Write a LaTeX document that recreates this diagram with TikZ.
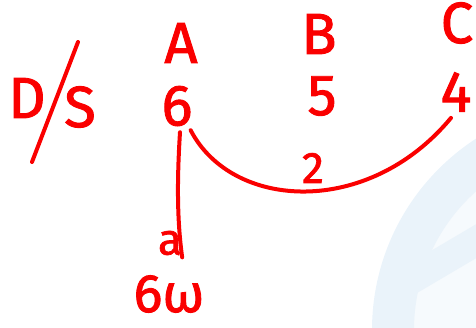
\documentclass[tikz,border=0pt]{standalone}
\usepackage{fontspec}
\newfontfamily\handfont[FakeBold=1.6]{Fira Sans}
\definecolor{ink}{RGB}{250,0,0}
\definecolor{wm}{RGB}{234,243,250}
\definecolor{wmin}{RGB}{246,250,253}
\begin{document}
\begin{tikzpicture}[x=1pt,y=-1pt,
  hand/.style={text=ink,inner sep=0pt,font=\handfont\fontsize{58}{60}\selectfont},
  small/.style={text=ink,inner sep=0pt,font=\handfont\fontsize{44}{46}\selectfont},
  stroke/.style={draw=ink,line width=4pt,line cap=round}]
\useasboundingbox (0,0) rectangle (476,327);
% watermark
\begin{scope}
\clip (0,0) rectangle (476,327);
\fill[wmin] (600,330) circle (200);
\fill[wm,even odd rule] (600,330) circle (228) (600,330) circle (186);
\fill[wm] (412,262) -- (490,216) -- (490,250) -- (412,296) -- cycle;
\end{scope}
% texts
\node[hand] (D) at (27,98) {D};
\node[hand] (S) at (80,107) {S};
\coordinate (sl1) at (78,42);
\coordinate (sl2) at (32,162);
\draw[stroke] (sl1) -- (sl2);
\node[hand] (A) at (181,43) {A};
\node[hand] (B) at (319,34) {B};
\node[hand] (C) at (457,23) {C};
\node[hand] (six) at (177,106) {6};
\node[hand] (five) at (322,96) {5};
\node[hand] (four) at (456,92) {4};
\node[small] (two) at (313,168) {2};
\node[small] (d) at (170,243) {a};
\node[hand,font=\handfont\fontsize{54}{56}\selectfont] (res) at (169,294) {6ω};
% connectors
\draw[stroke] ([shift={(-2,4)}]six.south east) .. controls (232,210) and (368,218) .. ([shift={(-5,6)}]four.south);
\draw[stroke] ([shift={(3,6)}]six.south) .. controls (177,180) and (177,220) .. ([shift={(0,2)}]d.south east);
\end{tikzpicture}
\end{document}
